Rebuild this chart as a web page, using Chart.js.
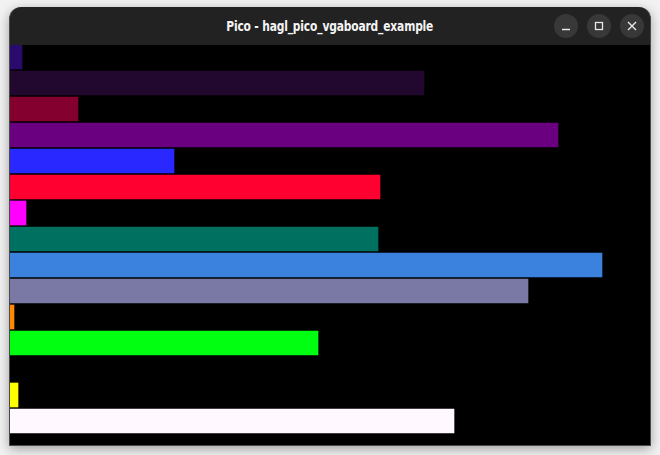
<!DOCTYPE html>
<html lang="en">
<head>
  <meta charset="utf-8" />
  <title>Pico - hagl_pico_vgaboard_example</title>
  <script src="https://cdn.jsdelivr.net/npm/chart.js@4.4.1/dist/chart.umd.min.js"></script>
  <style>
    *{box-sizing:border-box;}
    html,body{margin:0;width:660px;height:455px;overflow:hidden;background:#f2f2f2;}
    .win{position:absolute;left:9px;top:7px;width:642px;height:439px;background:#222;border:1px solid #4a4a4a;border-top:none;
      border-radius:12px 12px 0 0;box-shadow:0 3px 12px rgba(0,0,0,.35);overflow:hidden;}
    .title{position:absolute;left:0;right:0;top:0;height:38px;text-align:center;color:#f4f4f4;
      font:bold 14px "DejaVu Sans Condensed","DejaVu Sans",sans-serif;line-height:38px;}
    .title span{display:inline-block;transform:scaleX(0.85);letter-spacing:-0.2px;}
    .btn{position:absolute;top:7px;width:24px;height:24px;border-radius:50%;background:#383838;}
    .btn svg{position:absolute;left:0;top:0;}
    .screen{position:absolute;left:0;top:38px;width:640px;height:400px;background:#000;overflow:hidden;}
    .screen .box{position:absolute;left:0;top:-1px;width:640px;height:416px;}
  </style>
</head>
<body>
  <div class="win">
    <div class="title"><span>Pico - hagl_pico_vgaboard_example</span></div>
    <div class="btn" style="left:544px"><svg width="24" height="24"><line x1="8" y1="15.5" x2="16" y2="15.5" stroke="#e8e8e8" stroke-width="1.5"/></svg></div>
    <div class="btn" style="left:577px"><svg width="24" height="24"><rect x="8.5" y="8.5" width="7" height="7" fill="none" stroke="#e8e8e8" stroke-width="1.3"/></svg></div>
    <div class="btn" style="left:610px"><svg width="24" height="24"><path d="M8 8 L16 16 M16 8 L8 16" stroke="#e8e8e8" stroke-width="1.4"/></svg></div>
    <div class="screen"><div class="box"><canvas id="bars"></canvas></div></div>
  </div>

  <script>
    // one row per colour, values are bar lengths in screen pixels (0..640)
    const rows = ['indigo', 'aubergine', 'crimson', 'purple', 'blue', 'red', 'magenta', 'teal',
                  'sky', 'lavender', 'orange', 'green', 'black', 'yellow', 'white', 'blank'];
    const lengths = [12, 414, 68, 548, 164, 370, 16, 368, 592, 518, 4, 308, 0, 8, 444, 0];
    const colors = ['#2a0a6c', '#22082e', '#84002e', '#6a0080', '#2828ff', '#ff0030', '#ff00ff', '#007060',
                    '#3a82de', '#7a78a4', '#ff8a00', '#00ff10', '#000000', '#ffff00', '#fff8ff', '#000000'];
    const screenWidth = 640;

    new Chart(document.getElementById('bars'), {
      type: 'bar',
      data: { labels: rows, datasets: [{ data: lengths, backgroundColor: colors, borderWidth: 0, barThickness: 24 }] },
      options: {
        indexAxis: 'y', responsive: true, maintainAspectRatio: false, animation: false,
        layout: { padding: 0 },
        plugins: { legend: { display: false }, tooltip: { enabled: false } },
        scales: {
          x: { display: false, min: 0, max: screenWidth },
          y: { display: false }
        }
      }
    });
  </script>
</body>
</html>
